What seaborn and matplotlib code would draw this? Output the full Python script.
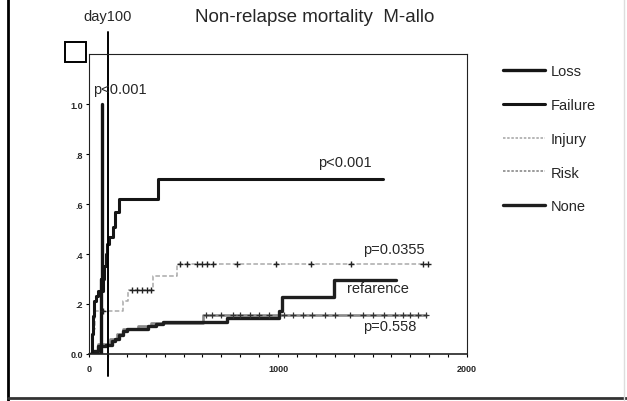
import matplotlib
matplotlib.use("Agg")
import matplotlib.pyplot as plt
from matplotlib.lines import Line2D
from matplotlib.patches import Rectangle
import seaborn as sns
import pandas as pd

# cumulative incidence curves (days, probability)
loss_t = [0, 62, 66]
loss_y = [0, 0.3, 1.0]

failure_t = [0, 15, 20, 25, 38, 48, 72, 80, 88, 95, 106, 126, 138, 161, 366, 1554]
failure_y = [0, 0.08, 0.15, 0.21, 0.23, 0.25, 0.30, 0.35, 0.40, 0.44, 0.47, 0.51, 0.57, 0.62, 0.70, 0.70]

injury_t = [0, 15, 22, 30, 180, 205, 340, 467, 1790]
injury_y = [0, 0.04, 0.10, 0.17, 0.21, 0.256, 0.31, 0.36, 0.36]
injury_cens_t = [75, 228, 255, 281, 308, 329, 483, 520, 573, 600, 626, 658, 785, 987, 1172, 1385, 1767, 1793]
injury_cens_y = [0.17, 0.256, 0.256, 0.256, 0.256, 0.256] + [0.36] * 12

risk_t = [0, 50, 110, 150, 180, 260, 330, 605, 1783]
risk_y = [0, 0.04, 0.06, 0.08, 0.10, 0.11, 0.125, 0.155, 0.155]
risk_cens_t = [620, 650, 700, 760, 800, 850, 900, 950, 1030, 1080, 1130, 1180, 1250,
               1300, 1380, 1450, 1500, 1560, 1620, 1660, 1700, 1740, 1780]
risk_cens_y = [0.155] * 23

none_t = [0, 20, 45, 90, 122, 138, 159, 180, 200, 313, 355, 393, 732, 1003, 1020, 1294, 1623]
none_y = [0, 0.01, 0.03, 0.035, 0.05, 0.06, 0.075, 0.09, 0.10, 0.11, 0.12, 0.128, 0.145, 0.17, 0.228, 0.296, 0.296]

groups = ["Loss", "Failure", "Injury", "Risk", "None"]
y_ticks = [0, 0.2, 0.4, 0.6, 0.8, 1.0]
y_labels = ["0.0", ".2", ".4", ".6", ".8", "1.0"]
x_ticks = [0, 1000, 2000]

sns.set_theme(style="white")
plt.rcParams["font.family"] = ["Liberation Sans", "DejaVu Sans"]

fig = plt.figure(figsize=(6.27, 4.02), dpi=100)
ax = fig.add_axes([0.142, 0.117, 0.603, 0.746])

styles = {
    "Loss": dict(color="#151515", lw=2.4),
    "Failure": dict(color="#151515", lw=2.2),
    "Injury": dict(color="#aaaaaa", lw=1.1, ls=(0, (3, 1.5))),
    "Risk": dict(color="#8a8a8a", lw=1.9),
    "None": dict(color="#1e1e1e", lw=2.4),
}
curves = {
    "Loss": (loss_t, loss_y),
    "Failure": (failure_t, failure_y),
    "Injury": (injury_t, injury_y),
    "Risk": (risk_t, risk_y),
    "None": (none_t, none_y),
}

for g in ["Risk", "Injury", "None", "Failure", "Loss"]:
    t, y = curves[g]
    df = pd.DataFrame({"day": t, "prob": y})
    st = styles[g]
    sns.lineplot(data=df, x="day", y="prob", ax=ax, estimator=None, sort=False,
                 drawstyle="steps-post", color=st["color"], linewidth=st["lw"],
                 linestyle=st.get("ls", "-"))

# censoring marks
sns.scatterplot(x=injury_cens_t, y=injury_cens_y, ax=ax, marker="+", s=22,
                color="#222222", linewidth=1.0, zorder=5)
sns.scatterplot(x=risk_cens_t, y=risk_cens_y, ax=ax, marker="+", s=16,
                color="#333333", linewidth=0.9, zorder=5)

ax.set_xlim(0, 2000)
ax.set_ylim(0, 1.2)
ax.set_xlabel("")
ax.set_ylabel("")
ax.set_yticks(y_ticks)
ax.set_yticklabels(y_labels, fontsize=6.5, fontweight="bold")
ax.set_xticks(x_ticks)
ax.set_xticklabels([str(v) for v in x_ticks], fontsize=6.5, fontweight="bold")
ax.set_xticks(range(0, 2001, 100), minor=True)
ax.tick_params(axis="both", which="both", direction="out", length=2.5, width=0.8,
               color="black", pad=2, bottom=True, left=True)
ax.tick_params(axis="x", which="minor", length=2.5)
ax.tick_params(axis="x", pad=5)
for side, sp in ax.spines.items():
    sp.set_color("#222222")
    sp.set_linewidth(0.8)
ax.spines["bottom"].set_linewidth(1.2)

# day 100 line
ax.plot([100, 100], [-0.09, 1.29], color="black", lw=1.4, clip_on=False)

# p values
ax.text(20, 1.06, "p<0.001", fontsize=10.5, va="center", ha="left")
ax.text(1210, 0.768, "p<0.001", fontsize=10.5, va="center", ha="left")
ax.text(1448, 0.42, "p=0.0355", fontsize=10.5, va="center", ha="left")
ax.text(1363, 0.264, "refarence", fontsize=10.5, va="center", ha="left")
ax.text(1448, 0.112, "p=0.558", fontsize=10.5, va="center", ha="left")

fig.text(108 / 627, 1 - 17 / 402, "day100", fontsize=10.5, ha="center", va="center")
fig.text(315 / 627, 1 - 17 / 402, "Non-relapse mortality  M-allo", fontsize=13.5,
         ha="center", va="center")

# little empty box top-left
fig.add_artist(Rectangle((65 / 627, 1 - 63 / 402), 21 / 627, 20 / 402,
                         transform=fig.transFigure, fill=False, lw=1.4,
                         edgecolor="black"))

# legend
handles = [Line2D([], [], color=styles[g]["color"],
                  lw=styles[g]["lw"] if g in ("Loss", "Failure", "None") else 1.2,
                  ls=(0, (1.5, 1)) if g in ("Injury", "Risk") else "-")
           for g in groups]
fig.legend(handles, groups, loc="upper left", bbox_to_anchor=(503 / 627, 1 - 65 / 402),
           frameon=False, fontsize=10.5, borderpad=0, borderaxespad=0,
           handlelength=2.9, handletextpad=0.35, labelspacing=1.36)

# frame of the scanned figure
fig.add_artist(Line2D([8 / 627, 8 / 627], [0, 1], transform=fig.transFigure,
                      color="black", lw=2))
fig.add_artist(Line2D([8 / 627, 1], [3 / 402, 3 / 402], transform=fig.transFigure,
                      color="#333333", lw=2))
fig.add_artist(Line2D([624 / 627, 624 / 627], [0, 1], transform=fig.transFigure,
                      color="#dddddd", lw=1))

fig.savefig("out.png", dpi=100)
plt.close(fig)
